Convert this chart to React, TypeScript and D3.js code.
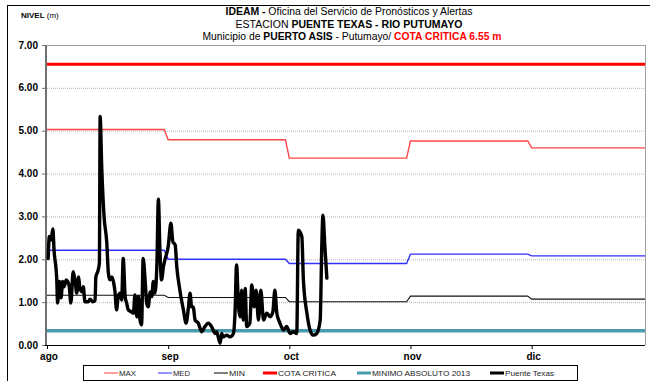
import React from "react";
import * as d3 from "d3";

// Month axis (day offsets from 1 Aug) and labels
const MESES = ["ago", "sep", "oct", "nov", "dic"];
const INICIO_MES = [0, 31, 62, 93, 124];
const FIN_DIAS = 153;
const NIVEL_TICKS = [0, 1, 2, 3, 4, 5, 6, 7];

// Monthly reference levels (m)
const MAX_MES = [5.03, 4.79, 4.36, 4.76, 4.6];
const MED_MES = [2.21, 2.0, 1.9, 2.12, 2.08];
const MIN_MES = [1.16, 1.11, 1.01, 1.14, 1.07];
const COTA_CRITICA = 6.55;
const MINIMO_2013 = 0.33;

// Puente Texas readings: day offset from 1 Aug and level (m)
const DIA = [
  0.3, 0.6, 1.0, 1.5, 1.8, 2.5, 2.7, 3.2, 3.6, 4.0, 4.4, 4.9, 5.3, 5.7, 6.1, 6.7,
  7.2, 7.6, 8.1, 8.4, 9.0, 9.3, 9.7, 10.6, 11.0, 11.7, 12.3, 12.5, 13.1, 13.4,
  13.6, 14.0, 14.6, 15.3, 15.7, 16.1, 16.6, 17.0, 17.4, 17.8, 18.2, 18.7, 19.1,
  19.5, 20.0, 20.4, 20.8, 21.5, 22.1, 22.5, 23.0, 23.4, 23.8, 24.2, 24.6, 25.1,
  25.5, 25.9, 26.4, 26.8, 27.2, 27.6, 28.1, 28.5, 28.9, 29.3, 29.8, 30.2, 31.0,
  31.7, 32.2, 32.8, 33.2, 34.0, 34.9, 35.6, 36.2, 36.6, 37.0, 37.4, 37.9, 38.7,
  39.6, 40.4, 41.3, 42.1, 43.0, 43.4, 43.8, 44.3, 44.7, 45.1, 46.0, 46.8, 47.7,
  48.1, 48.5, 49.0, 49.4, 49.8, 50.2, 50.7, 51.1, 51.9, 52.4, 53.0, 53.5, 54.1,
  54.7, 55.4, 56.2, 57.1, 57.8, 58.3, 58.8, 59.6, 60.5, 61.3, 62.2, 63.0, 63.9,
  64.3, 65.2, 65.6, 66.5, 67.3, 68.1, 69.0, 69.9, 70.3, 70.6, 71.1, 71.6,
];
const NIVEL = [
  2.02, 2.53, 2.45, 2.71, 2.22, 1.52, 0.98, 1.48, 1.1, 1.48, 1.36, 1.52, 1.48,
  1.36, 0.98, 1.71, 1.48, 1.21, 1.59, 1.33, 1.24, 1.36, 1.01, 1.01, 1.07, 1.01,
  1.04, 1.59, 1.75, 1.91, 5.33, 4.16, 3.0, 2.38, 1.68, 1.52, 1.59, 1.48, 1.24,
  0.82, 1.13, 1.21, 1.05, 2.02, 1.13, 0.97, 0.82, 0.78, 0.74, 1.17, 0.66, 1.13,
  0.58, 0.47, 2.02, 1.52, 0.97, 0.89, 1.24, 1.13, 1.48, 1.21, 1.83, 3.4, 2.2,
  1.52, 1.83, 2.0, 2.29, 2.84, 2.41, 2.33, 1.83, 1.28, 0.82, 0.51, 0.89, 1.21,
  0.89, 0.89, 0.58, 0.51, 0.31, 0.43, 0.51, 0.43, 0.27, 0.31, 0.19, 0.04, 0.27,
  0.19, 0.23, 0.19, 0.27, 0.74, 1.87, 0.89, 0.66, 1.28, 0.58, 1.32, 0.43, 0.51,
  1.4, 0.89, 1.28, 0.58, 1.28, 0.58, 0.74, 0.66, 0.78, 1.28, 0.74, 0.51, 0.35,
  0.43, 0.27, 0.31, 0.27, 2.68, 2.53, 1.52, 0.74, 0.35, 0.23, 0.27, 0.58, 2.29,
  3.03, 2.29, 1.56,
];

const W = 650;
const H = 381;
const FONT = "'Liberation Sans', Arial, Helvetica, sans-serif";

const x = d3.scaleLinear().domain([0, FIN_DIAS]).range([47, 645]);
const y = d3.scaleLinear().domain([0, 7]).range([345, 45]);

type Pt = [number, number];

// Flat monthly level with a one-day ramp into the next month
function escalonado(valores: number[]): Pt[] {
  const pts: Pt[] = [];
  valores.forEach((v, i) => {
    const ini = INICIO_MES[i];
    const fin = i + 1 < INICIO_MES.length ? INICIO_MES[i + 1] - 1 : FIN_DIAS;
    pts.push([ini, v], [fin, v]);
  });
  return pts;
}

const linea = d3
  .line<Pt>()
  .x((d) => x(d[0]))
  .y((d) => y(d[1]));

const lineaSuave = d3
  .line<Pt>()
  .x((d) => x(d[0]))
  .y((d) => y(d[1]))
  .curve(d3.curveMonotoneX);

const SERIES = [
  { nombre: "MAX", color: "#ff4646", ancho: 1.4 },
  { nombre: "MED", color: "#3030ff", ancho: 1.4 },
  { nombre: "MIN", color: "#111111", ancho: 1.1 },
  { nombre: "COTA CRITICA", color: "#ff0000", ancho: 3 },
  { nombre: "MINIMO ABSOLUTO 2013", color: "#4a9bab", ancho: 3.5 },
  { nombre: "Puente Texas", color: "#000000", ancho: 3.4 },
];
const LEYENDA_X = [104, 158, 214, 263, 357, 490];
const LEYENDA_TXT_W = [17, 17, 16, 58, 98, 49];

export default function App() {
  const [x0, x1] = x.range();
  const lecturas: Pt[] = DIA.map((d, i) => [d, NIVEL[i]]);
  return (
    <svg
      width={W}
      height={H}
      style={{ position: "absolute", left: 0, top: 0, background: "#fff" }}
      fontFamily={FONT}
    >
      <rect x={0} y={0} width={W} height={H} fill="#fff" />
      {/* outer frame */}
      <line x1={7} x2={W} y1={5.5} y2={5.5} stroke="#000" strokeWidth={1} />
      <line x1={7.5} x2={7.5} y1={5} y2={H} stroke="#000" strokeWidth={1} />

      {/* titles */}
      <text x={21} y={18} fontSize={8} fill="#000">
        <tspan fontWeight="bold">NIVEL</tspan>
        <tspan> (m)</tspan>
      </text>
      <text x={349} y={15} fontSize={10} textAnchor="middle" textLength={247} lengthAdjust="spacingAndGlyphs">
        <tspan fontWeight="bold">IDEAM - </tspan>
        <tspan>Oficina del Servicio de Pronósticos y Alertas</tspan>
      </text>
      <text x={349} y={27.5} fontSize={10} textAnchor="middle" textLength={227} lengthAdjust="spacingAndGlyphs">
        <tspan>ESTACION </tspan>
        <tspan fontWeight="bold">PUENTE TEXAS - RIO PUTUMAYO</tspan>
      </text>
      <text x={352} y={40} fontSize={10} textAnchor="middle" textLength={299} lengthAdjust="spacingAndGlyphs">
        <tspan>Municipio de </tspan>
        <tspan fontWeight="bold">PUERTO ASIS</tspan>
        <tspan> - Putumayo/ </tspan>
        <tspan fontWeight="bold" fill="#ff0000">COTA CRITICA 6.55 m</tspan>
      </text>

      {/* gridlines */}
      {NIVEL_TICKS.filter((t) => t > 0 && t < 7).map((t) => (
        <line key={t} x1={x0} x2={x1} y1={y(t) + 0.5} y2={y(t) + 0.5} stroke="#b8b8b8" strokeDasharray="1,1" />
      ))}
      {/* plot frame */}
      <line x1={x0} x2={x1} y1={y(7) + 0.5} y2={y(7) + 0.5} stroke="#a0a0a0" />
      <line x1={x1 + 0.5} x2={x1 + 0.5} y1={y(7)} y2={y(0)} stroke="#a0a0a0" />

      {/* y axis */}
      <line x1={x0 - 1} x2={x0 - 1} y1={y(7)} y2={y(0)} stroke="#707070" strokeWidth={2} />
      {NIVEL_TICKS.map((t) => (
        <g key={t}>
          <line x1={x0 - 5} x2={x0 - 1} y1={y(t) + 0.5} y2={y(t) + 0.5} stroke="#707070" />
          <text x={38} y={y(t) + 3.5} fontSize={10} fontWeight="bold" textAnchor="end">
            {d3.format(".2f")(t)}
          </text>
        </g>
      ))}

      {/* series */}
      <path d={linea(escalonado(MAX_MES)) ?? ""} fill="none" stroke={SERIES[0].color} strokeWidth={SERIES[0].ancho} />
      <path d={linea(escalonado(MED_MES)) ?? ""} fill="none" stroke={SERIES[1].color} strokeWidth={SERIES[1].ancho} />
      <path d={linea(escalonado(MIN_MES)) ?? ""} fill="none" stroke={SERIES[2].color} strokeWidth={SERIES[2].ancho} />
      <path d={linea([[0, COTA_CRITICA], [FIN_DIAS, COTA_CRITICA]]) ?? ""} fill="none" stroke={SERIES[3].color} strokeWidth={SERIES[3].ancho} />
      <path d={linea([[0, MINIMO_2013], [FIN_DIAS, MINIMO_2013]]) ?? ""} fill="none" stroke={SERIES[4].color} strokeWidth={SERIES[4].ancho} />
      <path
        d={lineaSuave(lecturas) ?? ""}
        fill="none"
        stroke={SERIES[5].color}
        strokeWidth={SERIES[5].ancho}
        strokeLinejoin="round"
        strokeLinecap="round"
      />

      {/* x axis */}
      <line x1={x0 - 2} x2={x1} y1={y(0) + 0.5} y2={y(0) + 0.5} stroke="#000" />
      {INICIO_MES.map((d, i) => (
        <g key={MESES[i]}>
          <line x1={x(d) + 0.5} x2={x(d) + 0.5} y1={y(0)} y2={y(0) + 4} stroke="#000" />
          <text x={x(d) + 2} y={360} fontSize={10} fontWeight="bold" textAnchor="middle">
            {MESES[i]}
          </text>
        </g>
      ))}

      {/* legend */}
      <rect x={83.5} y={365.5} width={494} height={15} fill="#fff" stroke="#000" />
      {SERIES.map((s, i) => (
        <g key={s.nombre}>
          <line
            x1={LEYENDA_X[i]}
            x2={LEYENDA_X[i] + 14}
            y1={373}
            y2={373}
            stroke={s.nombre === "MAX" ? "#ff8080" : s.nombre === "MED" ? "#7070ff" : s.nombre === "MIN" ? "#555" : s.color}
            strokeWidth={s.ancho < 2 ? 1.5 : 3}
          />
          <text
            x={LEYENDA_X[i] + 15}
            y={376}
            fontSize={8}
            fill="#222"
            textLength={LEYENDA_TXT_W[i]}
            lengthAdjust="spacingAndGlyphs"
          >
            {s.nombre}
          </text>
        </g>
      ))}
    </svg>
  );
}
